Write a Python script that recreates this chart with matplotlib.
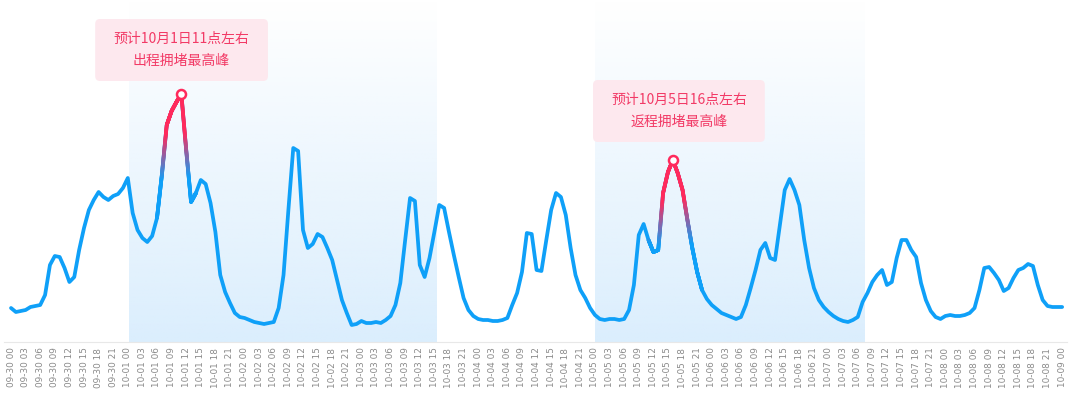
import matplotlib
matplotlib.use('Agg')
import matplotlib.pyplot as plt
import numpy as np
from matplotlib.collections import LineCollection
from matplotlib.patches import FancyBboxPatch

plt.rcParams['font.family'] = ['Noto Sans CJK SC', 'DejaVu Sans']

# hourly congestion index, 09-30 00:00 .. 10-09 00:00
congestion = [
    34, 30, 31, 32, 35, 36, 37, 47, 77, 86, 85, 74, 60, 65, 92, 114, 132, 142, 150, 145, 142, 146, 148, 154,
    164, 129, 112, 104, 100, 106, 124, 167, 217, 231, 240, 248, 192, 140, 149, 162, 158, 139, 110, 67, 50, 39, 29, 25,
    24, 22, 20, 19, 18, 19, 20, 34, 67, 132, 194, 191, 112, 94, 98, 108, 105, 94, 82, 62, 42, 29, 17, 18,
    21, 19, 19, 20, 19, 22, 26, 37, 59, 102, 144, 141, 77, 65, 84, 110, 137, 134, 110, 87, 65, 44, 32, 26,
    23, 22, 22, 21, 21, 22, 24, 37, 49, 70, 109, 108, 72, 71, 102, 132, 149, 145, 127, 94, 67, 52, 44, 34,
    27, 23, 22, 23, 23, 22, 23, 32, 57, 107, 118, 102, 90, 92, 149, 170, 182, 169, 152, 122, 94, 70, 52, 43,
    37, 33, 29, 27, 25, 23, 25, 37, 54, 72, 92, 99, 84, 82, 117, 152, 163, 152, 137, 102, 74, 54, 42, 35,
    30, 26, 23, 21, 20, 22, 25, 40, 49, 60, 67, 72, 57, 60, 84, 102, 102, 92, 85, 59, 42, 31, 25, 23,
    26, 27, 26, 26, 27, 29, 34, 52, 74, 75, 69, 62, 51, 54, 64, 72, 74, 78, 76, 57, 42, 36, 35, 35,
    35,
]
hours = np.arange(len(congestion))

days = ['09-30', '10-01', '10-02', '10-03', '10-04', '10-05', '10-06', '10-07', '10-08', '10-09']
tick_hours = list(range(0, 217, 3))
tick_labels = [f"{days[h // 24]} {h % 24:02d}" for h in tick_hours]

holiday_spans = [(24.3, 87.5), (120.1, 175.5)]
peak_hours = [35, 136]
peak_windows = [(30, 38), (131, 142)]
peak_notes = ['预计10月1日11点左右\n出程拥堵最高峰', '预计10月5日16点左右\n返程拥堵最高峰']
note_boxes = [(17.3, 261, 35.5, 62), (119.6, 200, 35.3, 62)]

blue = np.array([15, 160, 248]) / 255
red = np.array([255, 42, 92]) / 255

fig = plt.figure(figsize=(10.8, 3.94), dpi=100)
ax = fig.add_axes([4 / 1080, 1 - 342 / 394, 1063 / 1080, 342 / 394])
ax.set_xlim(-1.44, 217.0)
ax.set_ylim(0, 342)

# holiday shading, fading towards the top
grad = np.zeros((256, 1, 4))
grad[..., 0] = 219 / 255
grad[..., 1] = 238 / 255
grad[..., 2] = 253 / 255
grad[:, 0, 3] = np.linspace(0, 1, 256)
for x0, x1 in holiday_spans:
    ax.imshow(grad, extent=(x0, x1, 0, 342), aspect='auto', origin='upper', zorder=0)

ax.plot(hours, congestion, color=blue, lw=2.7, solid_joinstyle='round',
        solid_capstyle='round', zorder=3)

# red highlight around the peaks
for peak, (i0, i1) in zip(peak_hours, peak_windows):
    xf = np.linspace(i0, i1, 400)
    yf = np.interp(xf, hours, congestion)
    pts = np.column_stack([xf, yf]).reshape(-1, 1, 2)
    segs = np.concatenate([pts[:-1], pts[1:]], axis=1)
    depth = congestion[peak] - (yf[:-1] + yf[1:]) / 2
    t = np.clip((depth - 40) / 45, 0, 1)[:, None]
    cols = red * (1 - t) + blue * t
    lc = LineCollection(segs, colors=cols, linewidths=2.7, capstyle='round', zorder=4)
    ax.add_collection(lc)
    ax.plot(peak, congestion[peak], 'o', ms=6.5, mfc='white', mec=red, mew=1.8, zorder=5)

for note, (bx, by, bw, bh) in zip(peak_notes, note_boxes):
    box = FancyBboxPatch((bx, by), bw, bh, boxstyle='round,pad=0,rounding_size=1',
                         mutation_aspect=4.866, fc='#fde8ee', ec='none', zorder=2)
    ax.add_patch(box)
    ax.text(bx + bw / 2, by + bh / 2, note, ha='center', va='center', fontsize=10,
            color='#f23a66', linespacing=1.75, zorder=6)

ax.set_xticks(tick_hours, tick_labels, rotation=90, fontsize=6.4, color='#8a8a8a',
              family='DejaVu Sans')
ax.tick_params(axis='x', length=0, pad=4)
ax.set_yticks([])
for side in ['top', 'right', 'left']:
    ax.spines[side].set_visible(False)
ax.spines['bottom'].set_color('#e8e8e8')
ax.spines['bottom'].set_linewidth(0.8)

fig.savefig('out.png', dpi=100)
